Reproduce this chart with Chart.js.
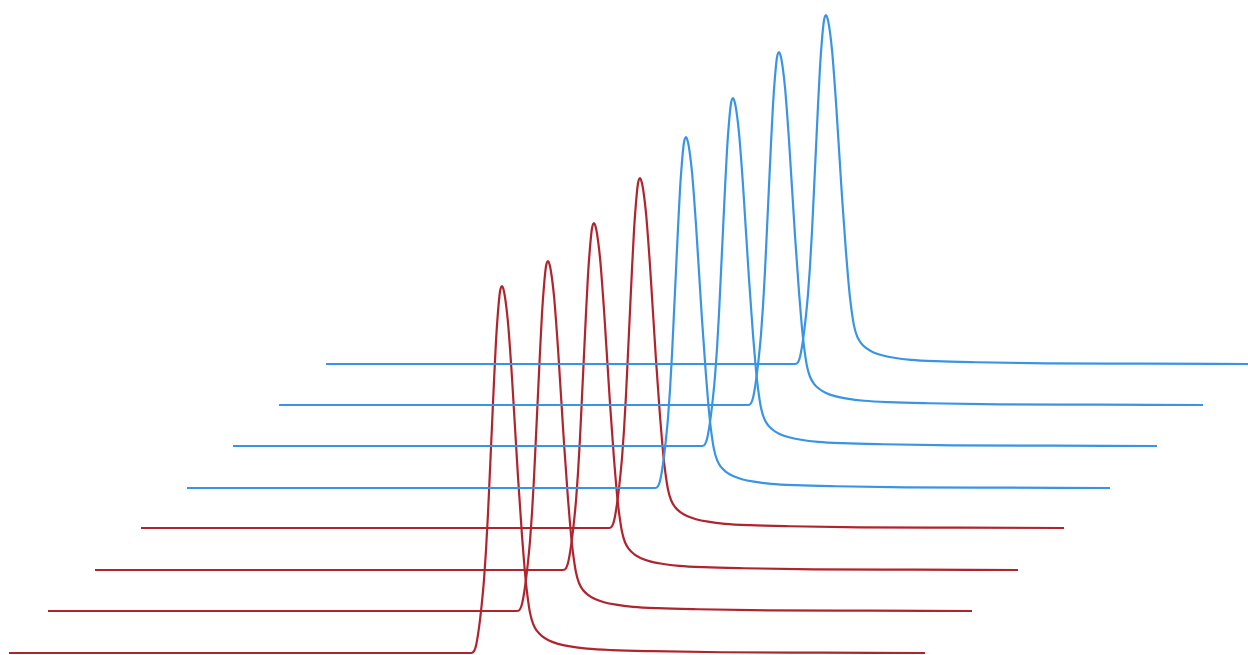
<!DOCTYPE html>
<html>
<head>
<meta charset="utf-8">
<script src="https://cdn.jsdelivr.net/npm/chart.js@4/dist/chart.umd.min.js"></script>
<style>
  html, body { margin: 0; padding: 0; background: #fff; }
  #wrap { width: 1248px; height: 655px; position: relative; }
</style>
</head>
<body>
<div id="wrap"><canvas id="myChart"></canvas></div>
<script>
// waterfall of 8 traces (front -> back)
const traceColors = ['red', 'red', 'red', 'red', 'blue', 'blue', 'blue', 'blue']
const traceStart = [9, 48, 95, 141, 187, 233, 279, 326]      // waterfall x offset
const traceBase = [2, 44, 85, 127, 167, 209, 250, 291]       // waterfall y offset
const traceLength = [916, 924, 923, 923, 923, 924, 924, 922]
const peakCentre = [493, 500, 499, 499, 499, 500, 500, 500]
const peakHeight = [367, 350, 347, 350, 351, 348, 353, 349]

// peak shape: distance from the peak, relative height
const profileDx = [-31, -28, -26, -24, -22, -20, -18, -16, -14, -12, -10, -8, -6, -4, -2, 0,
  2, 4, 6, 8, 10, 12, 14, 16, 18, 20, 22, 24, 26, 28, 31, 35, 40, 47, 56, 68, 85, 110, 150, 220, 320]
const profileH = [0, 0.005, 0.02, 0.05, 0.09, 0.14, 0.2, 0.28, 0.38, 0.5, 0.62, 0.74, 0.85, 0.93, 0.985, 1,
  0.985, 0.95, 0.9, 0.83, 0.75, 0.66, 0.57, 0.48, 0.4, 0.32, 0.25, 0.19, 0.145, 0.11, 0.08, 0.06, 0.046, 0.034, 0.025, 0.018, 0.012, 0.008, 0.005, 0.002, 0.001]

const palette = {
  red: 'rgb(176, 36, 46)',
  blue: 'rgb(58, 148, 230)'
}

let datasets = traceStart.map((x0, i) => {
  let pts = [{ x: x0, y: traceBase[i] }]
  profileDx.forEach((dx, k) => {
    let t = peakCentre[i] + dx
    if (t > 0 && t < traceLength[i]) {
      pts.push({ x: x0 + t, y: traceBase[i] + peakHeight[i] * profileH[k] })
    }
  })
  pts.push({ x: x0 + traceLength[i], y: traceBase[i] })
  return {
    label: 'trace ' + (i + 1),
    data: pts,
    borderColor: palette[traceColors[i]],
    borderWidth: 2.2,
    pointRadius: 0,
    fill: false,
    cubicInterpolationMode: 'monotone',
    clip: false,
    order: traceStart.length - i
  }
})

var ctx = document.getElementById('myChart').getContext('2d')
var myChart = new Chart(ctx, {
  type: 'line',
  data: { datasets: datasets },
  options: {
    responsive: true,
    maintainAspectRatio: false,
    animation: false,
    layout: { padding: 0 },
    plugins: { legend: { display: false }, tooltip: { enabled: false } },
    scales: {
      x: { type: 'linear', min: 0, max: 1248, display: false },
      y: { type: 'linear', min: 0, max: 655, display: false }
    }
  }
})
</script>
</body>
</html>
